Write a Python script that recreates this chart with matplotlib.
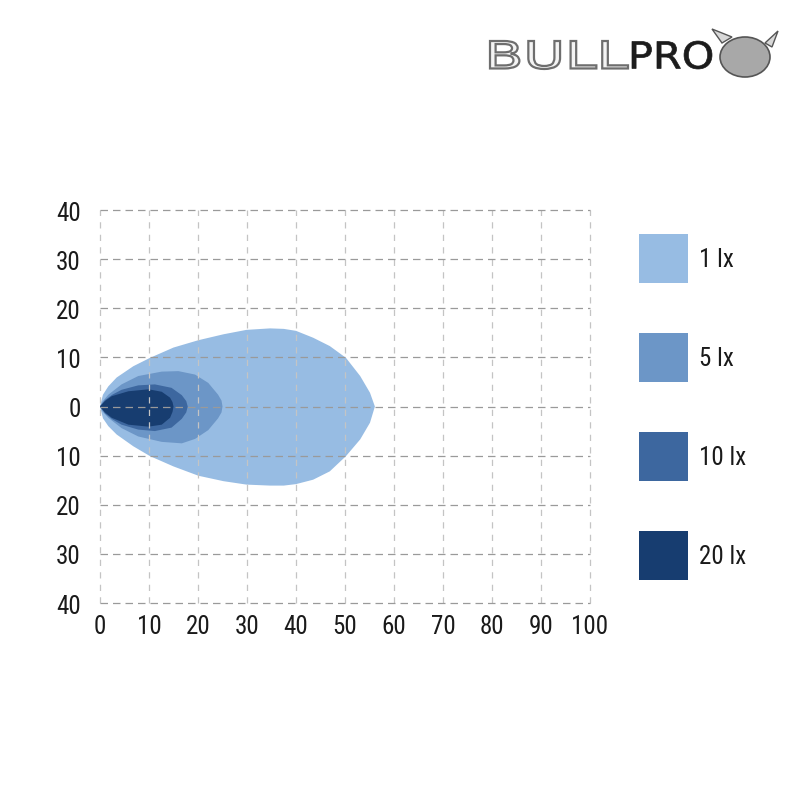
import numpy as np
import matplotlib
matplotlib.use("Agg")
import matplotlib.pyplot as plt
from matplotlib.patches import Rectangle, PathPatch, Ellipse, Polygon
from matplotlib.textpath import TextPath
from matplotlib.font_manager import FontProperties
from matplotlib.transforms import Affine2D, IdentityTransform

plt.rcParams['font.family'] = ['Liberation Sans Narrow', 'Roboto Condensed', 'Open Sans Condensed', 'DejaVu Sans']
plt.rcParams['font.stretch'] = 'condensed'

# isolux outlines (distance m, half width m)
lux_labels = ['1 lx', '5 lx', '10 lx', '20 lx']
lux_colors = ['#97bce3', '#6c96c7', '#3d679f', '#173d70']

x_1lx_top = [0, 0.6, 1.7, 3.4, 6.8, 10.2, 15.0, 20.1, 25.2, 29.9, 34.7, 37.5, 40, 43.5, 46.9, 50.2, 53.1, 55.1, 56.1]
y_1lx_top = [0, 2.4, 4.1, 5.9, 8.2, 9.9, 12.0, 13.5, 14.7, 15.6, 15.9, 15.8, 15.4, 14.0, 12.3, 9.9, 6.2, 2.8, 0]
x_1lx_bot = [0, 0.6, 1.7, 3.4, 6.8, 10.2, 15.0, 20.1, 25.2, 29.9, 34.7, 37.5, 40, 43.5, 46.9, 50.2, 53.1, 55.1, 56.1]
y_1lx_bot = [0, -2.4, -4.0, -5.7, -8.1, -10.1, -12.2, -14.1, -15.2, -15.9, -16.1, -16.1, -15.8, -14.9, -13.2, -10.1, -6.7, -3.3, 0]

x_5lx_top = [0, 0.5, 1.7, 4.4, 7.8, 12.6, 16.0, 19.4, 22.1, 24.1, 24.8, 25.0]
y_5lx_top = [0, 1.0, 2.4, 4.5, 6.2, 7.1, 7.2, 6.5, 4.8, 2.4, 1.2, 0]
x_5lx_bot = [0, 0.5, 1.7, 4.4, 7.8, 12.6, 16.7, 19.4, 22.1, 24.1, 24.8, 25.0]
y_5lx_bot = [0, -1.0, -2.3, -4.4, -6.1, -7.2, -7.5, -6.6, -4.8, -2.4, -1.2, 0]

x_10lx_top = [0, 1, 2.5, 4.4, 7.8, 11.2, 14.6, 16.7, 17.6, 17.9]
y_10lx_top = [0, 1.3, 2.4, 3.4, 4.3, 4.5, 3.8, 2.3, 1.1, 0]
x_10lx_bot = [0, 1, 2.5, 4.4, 7.8, 11.2, 14.6, 16.7, 17.6, 17.9]
y_10lx_bot = [0, -1.4, -2.6, -3.7, -4.7, -5.0, -4.3, -2.5, -1.2, 0]

x_20lx_top = [0, 1, 2.4, 5.8, 9.9, 12.6, 14.3, 14.8, 15.0]
y_20lx_top = [0, 1.1, 2.1, 3.1, 3.5, 3.0, 1.8, 0.9, 0]
x_20lx_bot = [0, 1, 2.4, 5.8, 9.9, 12.6, 14.3, 14.8, 15.0]
y_20lx_bot = [0, -1.2, -2.3, -3.7, -4.1, -3.7, -2.3, -1.1, 0]

outlines = [
    (x_1lx_top, y_1lx_top, x_1lx_bot, y_1lx_bot),
    (x_5lx_top, y_5lx_top, x_5lx_bot, y_5lx_bot),
    (x_10lx_top, y_10lx_top, x_10lx_bot, y_10lx_bot),
    (x_20lx_top, y_20lx_top, x_20lx_bot, y_20lx_bot),
]

x_ticks = [0, 10, 20, 30, 40, 50, 60, 70, 80, 90, 100]
y_ticks = [40, 30, 20, 10, 0, -10, -20, -30, -40]
y_tick_labels = ['40', '30', '20', '10', '0', '10', '20', '30', '40']

W, H = 810, 804
fig = plt.figure(figsize=(W / 100, H / 100), dpi=100)
ax = fig.add_axes([100 / W, 200 / H, 490 / W, 393 / H])

for (xt, yt, xb, yb), col in zip(outlines, lux_colors):
    xs = np.concatenate([xt, xb[::-1]])
    ys = np.concatenate([yt, yb[::-1]])
    ax.fill(xs, ys, color=col, lw=0, zorder=1)

ax.set_xlim(0, 100)
ax.set_ylim(-40, 40)
ax.set_xticks(x_ticks)
ax.set_yticks(y_ticks)
ax.set_yticklabels(y_tick_labels)
for s in ax.spines.values():
    s.set_visible(False)
ax.tick_params(length=0, labelsize=18, colors='#1a1a1a')
ax.tick_params(axis='x', pad=8)
ax.tick_params(axis='y', pad=14)
ax.xaxis.grid(True, ls=(0, (5, 5)), color='#c4c4c4', lw=0.9, zorder=2)
ax.yaxis.grid(True, ls=(0, (6, 4)), color='#9a9a9a', lw=0.9, zorder=2)
ax.set_axisbelow(False)
for gl in ax.get_xgridlines() + ax.get_ygridlines():
    gl.set_clip_on(False)

# legend squares on the right
legend_tops = [235, 334, 433, 532]
for lab, col, top in zip(lux_labels, lux_colors, legend_tops):
    fig.patches.append(Rectangle((639 / W, 1 - (top + 49) / H), 49 / W, 49 / H,
                                 transform=fig.transFigure, color=col, lw=0))
    fig.text(699 / W, 1 - (top + 25) / H, lab, fontsize=18, color='#1a1a1a',
             ha='left', va='center')


# logo, drawn in pixel coordinates
def logo_word(word, x0, x1, y_top, y_bot, face, edge, lw):
    tp = TextPath((0, 0), word, size=10, prop=FontProperties(family='DejaVu Sans'))
    ext = tp.get_extents()
    sx = (x1 - x0) / ext.width
    sy = (y_bot - y_top) / ext.height
    tr = Affine2D().translate(-ext.x0, -ext.y0).scale(sx, sy).translate(x0, H - y_bot)
    patch = PathPatch(tr.transform_path(tp), transform=IdentityTransform(),
                      facecolor=face, edgecolor=edge, lw=lw)
    fig.patches.append(patch)


logo_word('BULL', 490, 628, 42, 70, '#f4f4f4', '#6e6e6e', 1.6)
logo_word('PRO', 632, 712, 42, 70, '#1c1c1c', '#1c1c1c', 0.5)
fig.patches.append(Ellipse((745, H - 58), 50, 40, transform=IdentityTransform(),
                           facecolor='#a8a8a8', edgecolor='#555555', lw=1.2))
fig.patches.append(Polygon([(722, H - 44), (712, H - 30), (732, H - 38)], closed=True,
                           transform=IdentityTransform(), facecolor='#d8d8d8', edgecolor='#555555', lw=1))
fig.patches.append(Polygon([(765, H - 44), (778, H - 32), (772, H - 48)], closed=True,
                           transform=IdentityTransform(), facecolor='#d8d8d8', edgecolor='#555555', lw=1))

fig.savefig('out.png', dpi=100)
